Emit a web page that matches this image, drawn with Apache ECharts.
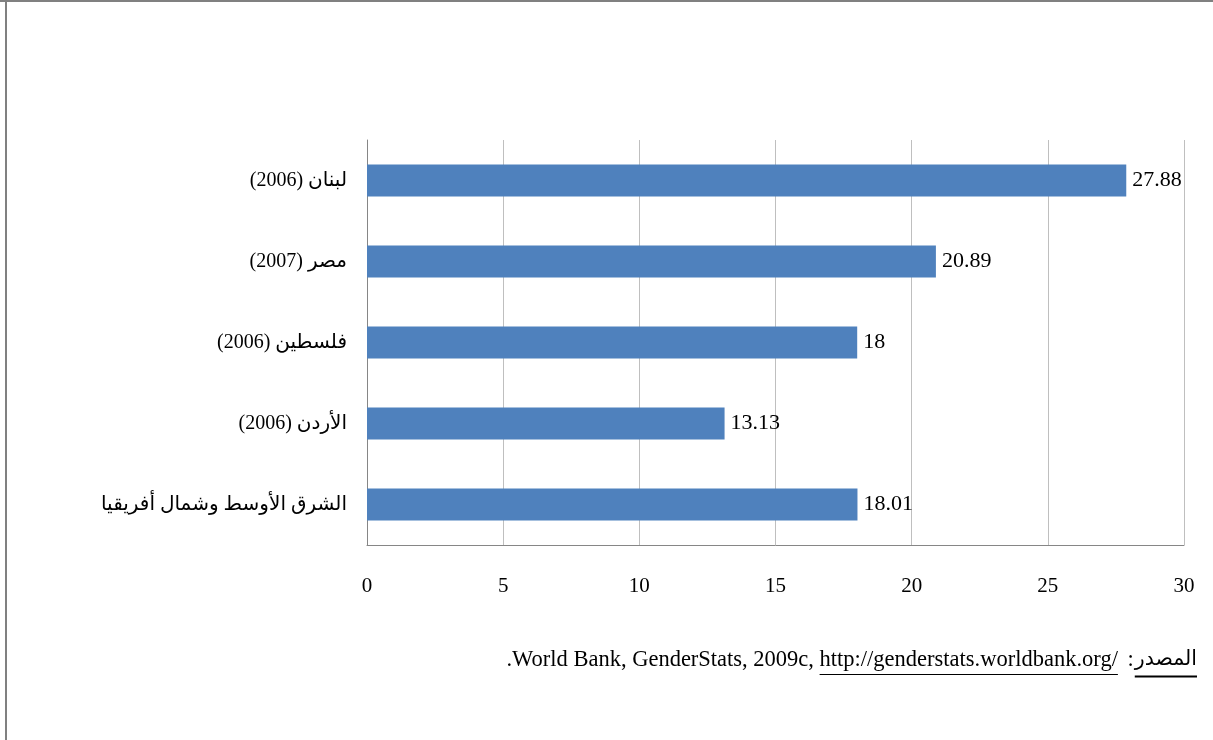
<!DOCTYPE html>
<html>
<head>
<meta charset="utf-8">
<script src="https://cdn.jsdelivr.net/npm/echarts@6/dist/echarts.min.js"></script>
<style>
  html, body { margin: 0; padding: 0; background: #fff; }
  #chart { width: 1213px; height: 740px; }
</style>
</head>
<body>
<div id="chart"></div>
<script>
// 범주 (위에서 아래 순서)
const categories = ['لبنان (2006)', 'مصر (2007)', 'فلسطين (2006)', 'الأردن (2006)', 'الشرق الأوسط وشمال أفريقيا'];
// 값
const values = [27.88, 20.89, 18, 13.13, 18.01];
// 눈금
const xTicks = [0, 5, 10, 15, 20, 25, 30];

const serif = '"Liberation Serif", "DejaVu Sans"';
const chart = echarts.init(document.getElementById('chart'));

// 출처 텍스트 폭 측정
const latinFont = '22.5px ' + serif;
const arabFont = '20.5px ' + serif;
const ctx = document.createElement('canvas').getContext('2d');
const srcParts = ['.World Bank, GenderStats, 2009c, ', 'http://genderstats.worldbank.org/', ' :', 'المصدر'];
const srcFonts = [latinFont, latinFont, latinFont, arabFont];
const srcW = srcParts.map(function (t, i) { ctx.font = srcFonts[i]; return ctx.measureText(t).width; });
const srcRight = 1197, srcY = 662;
let x4 = srcRight - srcW[3];
let x3 = x4 - srcW[2] - 1;
let x2 = x3 - srcW[1] - 4;
let x1 = x2 - srcW[0];

const txt = function (x, i) {
  return { type: 'text', left: x, top: srcY - 13, style: { text: srcParts[i], font: srcFonts[i], fill: '#000' } };
};

chart.setOption({
  animation: false,
  backgroundColor: '#fff',
  grid: { left: 367, right: 29, top: 140, bottom: 195 },
  xAxis: {
    type: 'value',
    min: 0, max: 30, interval: 5,
    axisLine: { show: true, lineStyle: { color: '#868686' } },
    axisTick: { show: false },
    splitLine: { show: true, lineStyle: { color: '#bfbfbf' } },
    axisLabel: { color: '#000', fontFamily: serif, fontSize: 21, margin: 31,
      formatter: function (v) { return xTicks.indexOf(v) >= 0 ? String(v) : ''; } }
  },
  yAxis: {
    type: 'category',
    inverse: true,
    data: categories,
    axisLine: { show: true, lineStyle: { color: '#868686' } },
    axisTick: { show: false },
    splitLine: { show: false },
    axisLabel: { color: '#000', fontFamily: serif, fontSize: 20, margin: 20 }
  },
  series: [{
    type: 'bar',
    data: values,
    barWidth: 32,
    itemStyle: { color: '#4f81bd' },
    label: { show: true, position: 'right', distance: 6, color: '#000', fontFamily: serif, fontSize: 22 }
  }],
  graphic: [
    { type: 'line', shape: { x1: 6, y1: 0, x2: 6, y2: 740 }, style: { stroke: '#808080', lineWidth: 2 } },
    { type: 'line', shape: { x1: 0, y1: 1, x2: 1213, y2: 1 }, style: { stroke: '#808080', lineWidth: 2 } },
    txt(x1, 0),
    txt(x2, 1),
    txt(x3, 2),
    txt(x4, 3),
    { type: 'line', shape: { x1: x2, y1: 674.5, x2: x2 + srcW[1], y2: 674.5 }, style: { stroke: '#000', lineWidth: 1 } },
    { type: 'line', shape: { x1: x4, y1: 676.5, x2: srcRight, y2: 676.5 }, style: { stroke: '#000', lineWidth: 2 } }
  ]
});
</script>
</body>
</html>
